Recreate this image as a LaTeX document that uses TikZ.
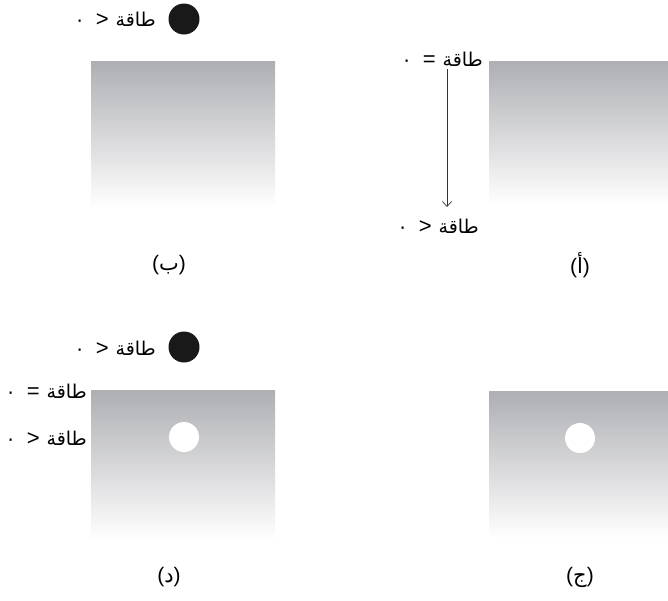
\documentclass[tikz,border=0pt]{standalone}
\usepackage{fontspec}
\setmainfont{Liberation Sans}
\newfontfamily\arabicfont[Script=Arabic]{DejaVu Sans}
\TeXXeTstate=1
\usetikzlibrary{arrows.meta}
\definecolor{topgray}{RGB}{174,175,179}
\tikzset{
  grad/.style={shading=axis, top color=topgray, bottom color=white, draw=none},
  lbl/.style={font=\fontsize{19}{22}\selectfont, inner sep=0pt},
  captext/.style={font=\fontsize{21}{24}\selectfont, inner sep=0pt},
  blackdot/.style={circle, fill=black!90, minimum size=31, inner sep=0pt},
  whitedot/.style={circle, fill=white, minimum size=30, inner sep=0pt},
}
\newcommand{\gtzero}{{\arabicfont ٠}\hspace{11pt}{\fontsize{22}{22}\selectfont\char"3E}\hspace{7pt}{\arabicfont\beginR طاقة\endR}}
\newcommand{\eqzero}{{\arabicfont ٠}\hspace{11pt}{\fontsize{22}{22}\selectfont =}\hspace{7pt}{\arabicfont\beginR طاقة\endR}}
\begin{document}
\begin{tikzpicture}[x=1pt,y=-1pt]
\useasboundingbox (0,0) rectangle (668,600);
% panel b
\shade[grad] (91,61) rectangle (275,208);
\node[blackdot] (bd) at (184,19) {};
\node[lbl, anchor=east] (bt) at (156,19) {\gtzero};
\node[captext] (bc) at (169,265) {(\beginR{\arabicfont ب}\endR)};
% panel a
\shade[grad] (489,61) rectangle (668,205);
\node[lbl, anchor=east] (at) at (483,59) {\eqzero};
\node[lbl, anchor=east] (ab) at (479,226) {\gtzero};
\coordinate (a1) at (447,69);
\coordinate (a2) at (447,207);
\draw[black!80, line width=0.7pt, -{Straight Barb[length=5pt,width=9pt]}] (a1) -- (a2);
\node[captext] (ac) at (580,265) {(\beginR{\arabicfont أ}\endR)};
% panel d
\shade[grad] (91,390) rectangle (275,540);
\node[blackdot] (dd) at (184,347) {};
\node[lbl, anchor=east] (dt) at (156,348) {\gtzero};
\node[lbl, anchor=east] (de) at (87,391) {\eqzero};
\node[lbl, anchor=east] (dg) at (87,438) {\gtzero};
\node[whitedot] (dw) at (184,437) {};
\node[captext] (dc) at (169,577) {(\beginR{\arabicfont د}\endR)};
% panel c
\shade[grad] (489,391) rectangle (668,538);
\node[whitedot] (cw) at (580,438) {};
\node[captext] (cc) at (580,577) {(\beginR{\arabicfont ج}\endR)};
\end{tikzpicture}
\end{document}
